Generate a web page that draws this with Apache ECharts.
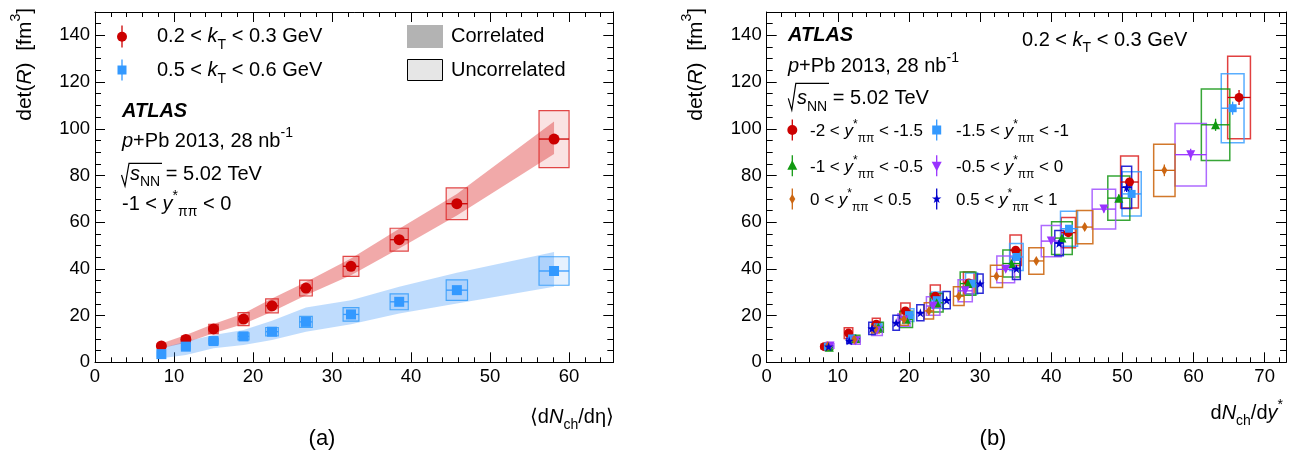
<!DOCTYPE html>
<html>
<head>
<meta charset="utf-8">
<script src="https://cdn.jsdelivr.net/npm/echarts@6/dist/echarts.min.js"></script>
<style>
  html, body { margin: 0; padding: 0; background: #fff; }
  #chart { width: 1305px; height: 456px; }
</style>
</head>
<body>
<div id="chart"></div>
<script>
// ---- panel (a): det(R) vs <dNch/deta>, -1 < y* < 0
var multA = [8.4, 11.5, 15.0, 18.8, 22.4, 26.7, 32.4, 38.5, 45.8, 58.1];
var multAErr = [0.5, 0.55, 0.6, 0.7, 0.8, 0.8, 1.0, 1.15, 1.35, 1.9];

var detLowKt = [7.0, 9.8, 14.3, 18.5, 24.2, 31.8, 41.1, 52.5, 67.9, 95.6];
var statLowKt = [0.3, 0.3, 0.4, 0.5, 0.5, 0.6, 0.8, 1.0, 1.3, 2.0];
var uncorLowKt = [1.0, 1.4, 2.0, 2.8, 3.0, 3.4, 4.3, 4.9, 6.8, 12.2];
var corLoLowKt = [6.0, 8.4, 12.4, 16.4, 21.6, 28.7, 37.3, 48.7, 62.9, 89.2];
var corHiLowKt = [8.1, 11.7, 16.4, 20.9, 27.3, 34.4, 44.4, 57.2, 72.1, 103.1];

var detHighKt = [3.5, 6.7, 9.1, 11.1, 13.1, 17.3, 20.5, 25.9, 30.9, 39.1];
var statHighKt = [0.2, 0.2, 0.3, 0.3, 0.3, 0.4, 0.5, 0.6, 0.8, 1.2];
var uncorHighKt = [1.0, 1.1, 1.3, 1.5, 1.8, 2.4, 2.9, 3.4, 4.4, 6.1];
var corLoHighKt = [1.7, 3.1, 6.0, 7.4, 9.5, 13.1, 16.3, 20.9, 25.2, 32.3];
var corHiHighKt = [6.0, 8.9, 11.7, 13.8, 17.8, 23.5, 26.6, 32.3, 38.3, 47.2];

// ---- panel (b): det(R) vs dNch/dy*, 0.2 < kT < 0.3 GeV, six y* bins
var rapBins = [
  { name: '-2 < {i|y}{sup|*}{sub|ππ} < -1.5', color: '#cc0000', box: 'rgba(220,30,30,0.85)', symbol: 'circle', size: 9,
    x: [8.1, 11.5, 15.4, 19.5, 23.7, 28.4, 35.0, 42.4, 51.0, 66.4],
    y: [6.7, 12.5, 16.3, 22.0, 28.3, 34.0, 48.0, 55.5, 77.2, 113.4],
    dx: [0.45, 0.6, 0.55, 0.65, 0.7, 0.75, 0.8, 1.0, 1.25, 1.6],
    dy: [1.0, 2.3, 2.6, 3.4, 4.8, 4.7, 6.5, 6.5, 11.1, 17.7],
    stat: [0.3, 0.4, 0.5, 0.6, 0.7, 0.8, 1.0, 1.2, 1.8, 3.2] },
  { name: '-1.5 < {i|y}{sup|*}{sub|ππ} < -1', color: '#3399ff', box: 'rgba(60,160,255,0.85)', symbol: 'rect', size: 8,
    x: [8.6, 12.0, 15.6, 20.0, 23.9, 28.8, 35.1, 42.5, 51.3, 65.5],
    y: [6.7, 10.2, 15.0, 20.2, 26.6, 33.7, 45.1, 57.2, 72.1, 108.8],
    dx: [0.5, 0.55, 0.6, 0.7, 0.75, 0.85, 0.95, 1.2, 1.35, 1.6],
    dy: [0.9, 1.4, 2.0, 2.7, 3.5, 4.5, 5.8, 7.5, 9.5, 14.8],
    stat: [0.3, 0.4, 0.5, 0.6, 0.7, 0.8, 1.0, 1.2, 1.6, 2.8] },
  { name: '-1 < {i|y}{sup|*}{sub|ππ} < -0.5', color: '#119911', box: 'rgba(20,150,20,0.85)', symbol: 'triangle', size: 9,
    x: [8.8, 12.5, 15.7, 19.6, 23.9, 28.3, 34.4, 41.5, 49.5, 63.1],
    y: [6.4, 10.2, 15.0, 18.4, 25.5, 33.7, 42.3, 53.2, 70.3, 101.7],
    dx: [0.5, 0.6, 0.7, 0.9, 0.9, 1.1, 1.2, 1.45, 1.55, 2.0],
    dy: [0.9, 1.4, 2.1, 3.5, 4.0, 5.0, 5.8, 7.0, 9.5, 15.3],
    stat: [0.3, 0.4, 0.5, 0.6, 0.7, 0.8, 1.0, 1.2, 1.6, 2.6] },
  { name: '-0.5 < {i|y}{sup|*}{sub|ππ} < 0', color: '#9933ff', box: 'rgba(160,80,255,0.85)', symbol: 'triangle', rotate: 180, size: 9,
    x: [8.9, 12.5, 15.5, 19.3, 23.4, 27.9, 33.6, 40.0, 47.4, 59.6],
    y: [7.0, 9.2, 13.5, 18.1, 24.1, 30.6, 39.8, 51.9, 65.6, 88.9],
    dx: [0.55, 0.65, 0.75, 0.85, 0.95, 1.0, 1.25, 1.4, 1.65, 2.2],
    dy: [1.0, 1.5, 2.0, 2.7, 4.0, 4.7, 5.7, 6.7, 8.5, 13.4],
    stat: [0.3, 0.4, 0.5, 0.6, 0.7, 0.8, 1.0, 1.2, 1.5, 2.5] },
  { name: '0 < {i|y}{sup|*}{sub|ππ} < 0.5', color: '#cc6611', box: 'rgba(205,105,20,0.9)', symbol: 'diamond', size: [6, 10],
    x: [8.6, 12.3, 15.3, 19.3, 22.8, 27.0, 32.3, 37.9, 44.7, 55.9],
    y: [7.0, 9.8, 14.5, 18.4, 22.0, 28.3, 36.8, 43.4, 57.9, 82.2],
    dx: [0.45, 0.5, 0.55, 0.6, 0.65, 0.75, 0.85, 1.05, 1.15, 1.5],
    dy: [0.9, 1.3, 2.0, 2.5, 3.5, 4.0, 4.8, 5.7, 7.1, 11.2],
    stat: [0.3, 0.4, 0.5, 0.6, 0.7, 0.8, 1.0, 1.2, 1.5, 2.5] },
  { name: '0.5 < {i|y}{sup|*}{sub|ππ} < 1', color: '#0000cc', box: 'rgba(20,20,210,0.9)',
    symbol: 'path://M0,-10L2.35,-3.24L9.51,-3.09L3.8,1.24L5.88,8.09L0,4L-5.88,8.09L-3.8,1.24L-9.51,-3.09L-2.35,-3.24Z', size: 9,
    x: [8.7, 11.6, 14.8, 18.2, 21.6, 25.3, 30.0, 35.1, 41.1, 50.6],
    y: [6.7, 9.2, 14.5, 16.9, 21.2, 26.6, 33.7, 40.1, 51.0, 74.9],
    dx: [0.4, 0.35, 0.45, 0.45, 0.5, 0.5, 0.42, 0.55, 0.6, 0.7],
    dy: [0.9, 1.2, 2.6, 3.2, 3.4, 3.7, 4.1, 4.65, 5.4, 9.0],
    stat: [0.3, 0.4, 0.5, 0.5, 0.6, 0.7, 0.8, 1.0, 1.2, 2.0] }
];

var xMaxA = 65.6, xMaxB = 73, yMax = 150;
var FONT = '"Liberation Sans", Arial, Helvetica, sans-serif';
var chart = echarts.init(document.getElementById('chart'));

// frame axes (ROOT style: ticks inside on all four sides)
var xAxes = [], yAxes = [];
function axis(list, grid, max, pos, interval, len, label, line) {
  list.push({
    gridIndex: grid, type: 'value', position: pos, min: 0, max: max, interval: interval,
    splitLine: { show: false },
    axisLine: { show: line, onZero: false, lineStyle: { color: '#000', width: 1 } },
    axisTick: { show: true, inside: true, length: len, lineStyle: { color: '#000', width: 1 } },
    axisLabel: { show: label, showMaxLabel: false, margin: 5, fontSize: 18.5, fontFamily: FONT, color: '#000' }
  });
}
[0, 1].forEach(function (g) {
  axis(xAxes, g, g ? xMaxB : xMaxA, 'bottom', 10, 10, true, true);
  axis(yAxes, g, yMax, 'left', 20, 10, true, true);
});
[0, 1].forEach(function (g) {
  var xm = g ? xMaxB : xMaxA;
  axis(xAxes, g, xm, 'bottom', 2, 5, false, false);
  axis(xAxes, g, xm, 'top', 10, 10, false, true);
  axis(xAxes, g, xm, 'top', 2, 5, false, false);
  axis(yAxes, g, yMax, 'left', 5, 6, false, false);
  axis(yAxes, g, yMax, 'right', 20, 10, false, true);
  axis(yAxes, g, yMax, 'right', 5, 6, false, false);
});

function rows() {
  var cols = Array.prototype.slice.call(arguments);
  return cols[0].map(function (v, i) { return cols.map(function (c) { return c[i]; }); });
}

function bandItem(xs, lo, hi, fill) {
  return function (params, api) {
    if (params.dataIndex !== 0) return null;
    var pts = [];
    for (var i = 0; i < xs.length; i++) pts.push(api.coord([xs[i], hi[i]]));
    for (var j = xs.length - 1; j >= 0; j--) pts.push(api.coord([xs[j], lo[j]]));
    return { type: 'polygon', shape: { points: pts }, style: { fill: fill } };
  };
}
function boxItem(fill, stroke, lw) {
  return function (params, api) {
    var a = api.coord([api.value(0) - api.value(2), api.value(1) + api.value(3)]);
    var b = api.coord([api.value(0) + api.value(2), api.value(1) - api.value(3)]);
    return { type: 'rect', shape: { x: a[0], y: a[1], width: b[0] - a[0], height: b[1] - a[1] },
      style: { fill: fill, stroke: stroke, lineWidth: lw } };
  };
}
function barItem(color, lw) {
  return function (params, api) {
    var x = api.value(0), y = api.value(1), dx = api.value(2), ey = api.value(3);
    var l = api.coord([x - dx, y]), r = api.coord([x + dx, y]);
    var t = api.coord([x, y + ey]), b = api.coord([x, y - ey]);
    return { type: 'group', children: [
      { type: 'line', shape: { x1: l[0], y1: l[1], x2: r[0], y2: r[1] }, style: { stroke: color, lineWidth: lw } },
      { type: 'line', shape: { x1: t[0], y1: t[1], x2: b[0], y2: b[1] }, style: { stroke: color, lineWidth: lw } }
    ] };
  };
}
function custom(grid, data, render) {
  return { type: 'custom', xAxisIndex: grid, yAxisIndex: grid, data: data, renderItem: render, silent: true };
}

var series = [
  custom(0, rows(multA, corLoLowKt, corHiLowKt), bandItem(multA, corLoLowKt, corHiLowKt, 'rgba(220,40,40,0.4)')),
  custom(0, rows(multA, corLoHighKt, corHiHighKt), bandItem(multA, corLoHighKt, corHiHighKt, 'rgba(60,150,250,0.33)')),
  custom(0, rows(multA, detHighKt, multAErr, uncorHighKt), boxItem('rgba(60,150,250,0.13)', 'rgba(60,160,250,0.9)', 1.2)),
  custom(0, rows(multA, detLowKt, multAErr, uncorLowKt), boxItem('rgba(220,40,40,0.13)', 'rgba(220,40,40,0.85)', 1.2)),
  custom(0, rows(multA, detLowKt, multAErr, statLowKt), barItem('#cc0000', 1.3)),
  custom(0, rows(multA, detHighKt, multAErr, statHighKt), barItem('#3399ff', 1.3)),
  { type: 'scatter', xAxisIndex: 0, yAxisIndex: 0, data: rows(multA, detLowKt), symbol: 'circle', symbolSize: 11,
    itemStyle: { color: '#cc0000', opacity: 1 }, silent: true },
  { type: 'scatter', xAxisIndex: 0, yAxisIndex: 0, data: rows(multA, detHighKt), symbol: 'rect', symbolSize: 10,
    itemStyle: { color: '#3399ff', opacity: 1 }, silent: true }
];
rapBins.forEach(function (s) {
  series.push(custom(1, rows(s.x, s.y, s.dx, s.dy), boxItem('none', s.box, 1.5)));
});
rapBins.forEach(function (s) {
  series.push(custom(1, rows(s.x, s.y, s.dx, s.stat), barItem(s.color, 1.3)));
  series.push({ type: 'scatter', xAxisIndex: 1, yAxisIndex: 1, data: rows(s.x, s.y), symbol: s.symbol,
    symbolSize: s.size, symbolRotate: s.rotate || 0, itemStyle: { color: s.color, opacity: 1 }, silent: true });
});

// ---- text and legends
function rich(s) {
  var sm = Math.round(s * 0.68), lh = Math.round(s * 1.5);
  return {
    i: { fontSize: s, fontStyle: 'italic', fontFamily: FONT, lineHeight: lh },
    sub: { fontSize: sm, fontFamily: FONT, verticalAlign: 'bottom', lineHeight: lh },
    sup: { fontSize: sm, fontFamily: FONT, verticalAlign: 'top', lineHeight: lh }
  };
}
function txt(x, y, text, size, extra) {
  var el = { type: 'text', x: x, y: y, z: 10, silent: true,
    style: { text: text, fontSize: size, fontFamily: FONT, fill: '#000', align: 'left', verticalAlign: 'middle',
      lineHeight: Math.round(size * 1.5), rich: rich(size) } };
  if (extra) {
    if (extra.style) Object.assign(el.style, extra.style);
    if (extra.rotation) el.rotation = extra.rotation;
  }
  return el;
}
function ln(x1, y1, x2, y2, color, w) {
  return { type: 'line', z: 10, silent: true, shape: { x1: x1, y1: y1, x2: x2, y2: y2 }, style: { stroke: color, lineWidth: w || 1.3 } };
}
function radical(x0, yMid, yLow, yTop, xEnd) {
  return { type: 'polyline', z: 10, silent: true,
    shape: { points: [[x0, yMid], [x0 + 3.5, yLow], [x0 + 7.5, yTop], [xEnd, yTop]] },
    style: { stroke: '#000', lineWidth: 1.2, fill: null } };
}
function marker(kind, cx, cy, color) {
  var p;
  if (kind === 'circle') return { type: 'circle', z: 11, silent: true, shape: { cx: cx, cy: cy, r: 5 }, style: { fill: color } };
  if (kind === 'rect') return { type: 'rect', z: 11, silent: true, shape: { x: cx - 4.5, y: cy - 4.5, width: 9, height: 9 }, style: { fill: color } };
  if (kind === 'up') p = [[cx, cy - 5.5], [cx + 5, cy + 4], [cx - 5, cy + 4]];
  if (kind === 'down') p = [[cx, cy + 5.5], [cx + 5, cy - 4], [cx - 5, cy - 4]];
  if (kind === 'diamond') p = [[cx, cy - 5], [cx + 3, cy], [cx, cy + 5], [cx - 3, cy]];
  if (kind === 'star') {
    p = [];
    for (var k = 0; k < 10; k++) {
      var r = k % 2 ? 2 : 5, a = -Math.PI / 2 + k * Math.PI / 5;
      p.push([cx + r * Math.cos(a), cy + r * Math.sin(a)]);
    }
  }
  return { type: 'polygon', z: 11, silent: true, shape: { points: p }, style: { fill: color } };
}

var graphics = [
  // panel (a) legend
  ln(122, 25.5, 122, 47.5, '#cc0000'), marker('circle', 122, 36.7, '#cc0000'),
  txt(157, 36.7, '0.2 < {i|k}{sub|T} < 0.3 GeV', 20),
  ln(122, 59.5, 122, 80.5, '#3399ff'), marker('rect', 122, 70, '#3399ff'),
  txt(157, 70.8, '0.5 < {i|k}{sub|T} < 0.6 GeV', 20),
  { type: 'rect', z: 10, silent: true, shape: { x: 407, y: 25, width: 36, height: 23 }, style: { fill: '#b3b3b3' } },
  { type: 'rect', z: 10, silent: true, shape: { x: 407.5, y: 59.5, width: 35, height: 21 }, style: { fill: '#e6e6e6', stroke: '#000', lineWidth: 1 } },
  txt(451, 36.7, 'Correlated', 20),
  txt(451, 70.8, 'Uncorrelated', 20),
  txt(122, 111, 'ATLAS', 20, { style: { fontWeight: 'bold', fontStyle: 'italic' } }),
  txt(122, 141, '{i|p}+Pb 2013, 28 nb{sup|-1}', 20),
  radical(121.5, 175, 186, 163.3, 162), txt(130, 174.2, '{i|s}{sub|NN} = 5.02 TeV', 20),
  txt(122, 204.2, '-1 < {i|y}{sup|*}{sub|ππ} < 0', 20),
  // panel (b) labels
  txt(788, 35, 'ATLAS', 20, { style: { fontWeight: 'bold', fontStyle: 'italic' } }),
  txt(788, 66.3, '{i|p}+Pb 2013, 28 nb{sup|-1}', 20),
  radical(788.3, 98.3, 110, 83.3, 829), txt(797, 98.8, '{i|s}{sub|NN} = 5.02 TeV', 20),
  txt(1022, 40, '0.2 < {i|k}{sub|T} < 0.3 GeV', 20),
  // axis titles
  txt(25, 8, 'det({i|R})  [fm{sup|3}]', 21, { rotation: Math.PI / 2, style: { align: 'right' } }),
  txt(696, 8, 'det({i|R})  [fm{sup|3}]', 21, { rotation: Math.PI / 2, style: { align: 'right' } }),
  txt(614, 417, '⟨d{i|N}{sub|ch}/dη⟩', 20, { style: { align: 'right' } }),
  txt(1283, 413, 'd{i|N}{sub|ch}/d{i|y}{sup|*}', 20, { style: { align: 'right' } }),
  txt(322, 439, '(a)', 22, { style: { align: 'center' } }),
  txt(993, 439, '(b)', 22, { style: { align: 'center' } })
];
var legKinds = ['circle', 'rect', 'up', 'down', 'diamond', 'star'];
var legPos = [[792.3, 130], [936.7, 130], [792.3, 165.7], [936.7, 165.7], [792.3, 199], [936.7, 199]];
rapBins.forEach(function (s, i) {
  var p = legPos[i];
  graphics.push(ln(p[0], p[1] - 10.5, p[0], p[1] + 10.5, s.color));
  graphics.push(marker(legKinds[i], p[0], p[1], s.color));
  graphics.push(txt(p[0] + (i % 2 ? 19.3 : 17.7), p[1] + 1.5, s.name, 17));
});

chart.setOption({
  animation: false,
  backgroundColor: '#fff',
  grid: [
    { left: 95, top: 12, width: 518.3, height: 350.3, outerBoundsMode: 'none' },
    { left: 766.7, top: 12, width: 519.3, height: 350.3, outerBoundsMode: 'none' }
  ],
  xAxis: xAxes,
  yAxis: yAxes,
  series: series,
  graphic: graphics
});
</script>
</body>
</html>
